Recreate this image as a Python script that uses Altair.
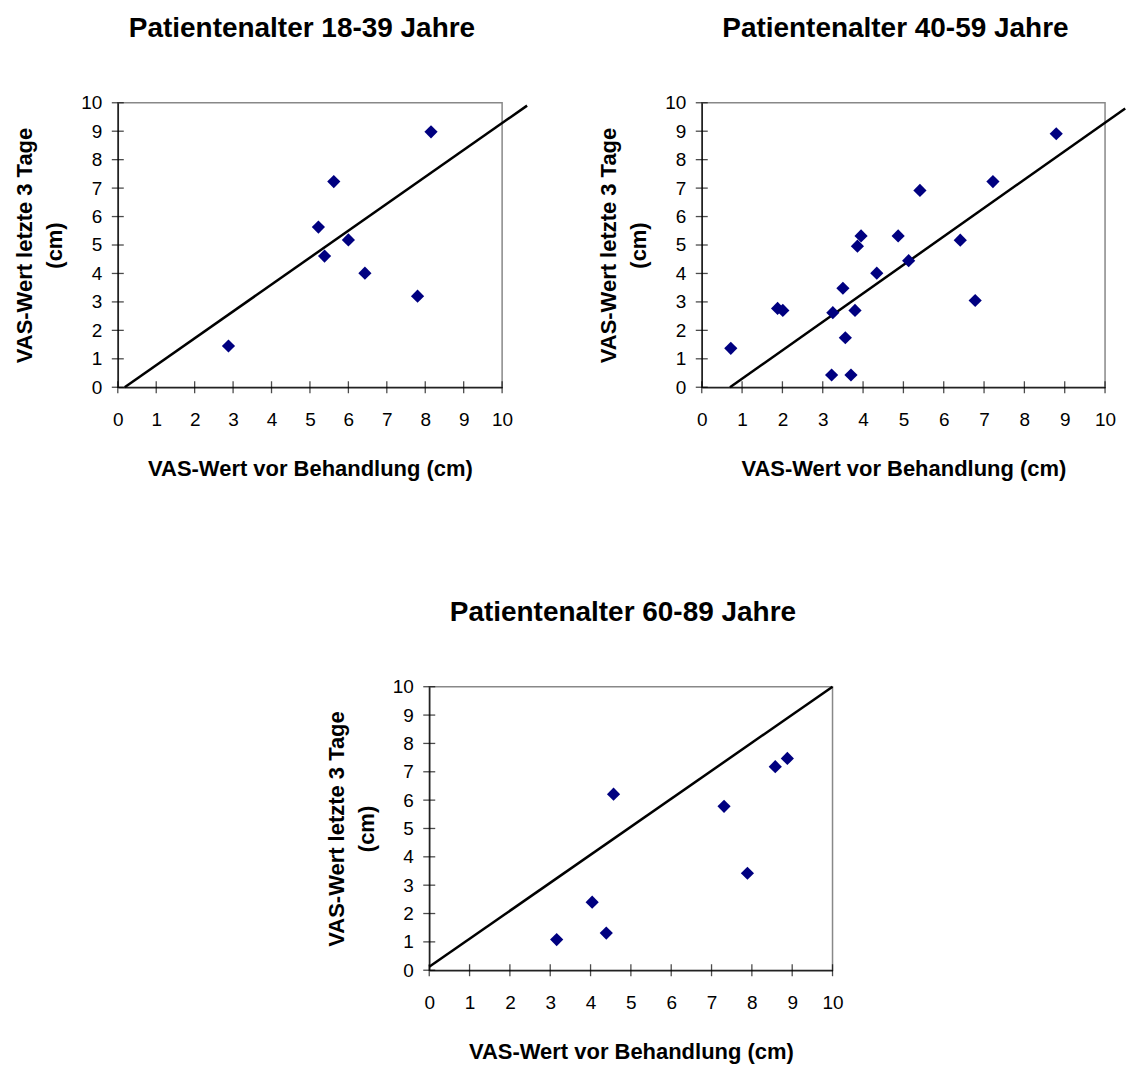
import altair as alt
import pandas as pd

FONT = "Liberation Sans"
NAVY = "#000080"
FRAME = "#888888"

titles = [
    "Patientenalter 18-39 Jahre",
    "Patientenalter 40-59 Jahre",
    "Patientenalter 60-89 Jahre",
]
x_title = "VAS-Wert vor Behandlung (cm)"
y_title = ["VAS-Wert letzte 3 Tage", "(cm)"]
tick_values = list(range(0, 11))

# Patients 18-39: VAS before treatment vs. last 3 days
vor_1 = [2.88, 5.22, 5.38, 5.62, 6.00, 6.43, 7.80, 8.15]
nach_1 = [1.45, 5.63, 4.61, 7.23, 5.18, 4.01, 3.20, 8.98]
line_x_1 = [0.18, 10.65]
line_y_1 = [0.0, 9.90]

# Patients 40-59
vor_2 = [0.72, 1.88, 2.01, 3.22, 3.25, 3.50, 3.56, 3.70, 3.80, 3.86,
         3.95, 4.34, 4.87, 5.13, 5.41, 6.41, 6.78, 7.22, 8.79]
nach_2 = [1.37, 2.77, 2.70, 0.43, 2.62, 3.48, 1.74, 0.43, 2.70, 4.96,
          5.32, 4.01, 5.32, 4.45, 6.92, 5.17, 3.05, 7.23, 8.91]
line_x_2 = [0.70, 10.50]
line_y_2 = [0.0, 9.80]

# Patients 60-89
vor_3 = [3.16, 4.04, 4.39, 4.57, 7.31, 7.89, 8.58, 8.88]
nach_3 = [1.08, 2.40, 1.31, 6.21, 5.78, 3.42, 7.18, 7.47]
line_x_3 = [0.0, 10.0]
line_y_3 = [0.12, 10.0]


def panel(title, vor, nach, lx, ly, width, height):
    pts = pd.DataFrame({"vor": vor, "nach": nach})
    ln = pd.DataFrame({"vor": lx, "nach": ly})
    xticks = pd.DataFrame({"vor": tick_values})
    yticks = pd.DataFrame({"nach": tick_values})

    xs = alt.Scale(domain=[0, 10], nice=False, zero=False)
    ys = alt.Scale(domain=[0, 10], nice=False, zero=False)
    xaxis = alt.Axis(
        values=tick_values, ticks=False, grid=False,
        domainColor="#222222", domainWidth=1.5,
        labelFont=FONT, labelFontSize=19, labelColor="black",
        labelPadding=23, labelFlush=False,
        title=x_title, titleFont=FONT, titleFontSize=22,
        titleFontWeight="bold", titleColor="black", titlePadding=29,
    )
    yaxis = alt.Axis(
        values=tick_values, ticks=False, grid=False,
        domainColor="#222222", domainWidth=1.5,
        labelFont=FONT, labelFontSize=19, labelColor="black",
        labelPadding=16, labelFlush=False,
        title=y_title, titleFont=FONT, titleFontSize=22,
        titleFontWeight="bold", titleColor="black", titlePadding=14,
        titleLineHeight=30,
    )
    X = alt.X("vor:Q", scale=xs, axis=xaxis)
    Y = alt.Y("nach:Q", scale=ys, axis=yaxis)

    xtick_layer = alt.Chart(xticks).mark_tick(
        orient="vertical", color="black", size=12, thickness=1.3
    ).encode(x=X, y=alt.YDatum(0, scale=ys, axis=yaxis))
    ytick_layer = alt.Chart(yticks).mark_tick(
        orient="horizontal", color="black", size=12, thickness=1.3
    ).encode(y=Y, x=alt.XDatum(0, scale=xs, axis=xaxis))
    line_layer = alt.Chart(ln).mark_line(
        color="black", strokeWidth=2.5, clip=False
    ).encode(x=X, y=Y)
    point_layer = alt.Chart(pts).mark_point(
        shape="diamond", filled=True, size=175, color=NAVY, opacity=1
    ).encode(x=X, y=Y)

    return alt.layer(xtick_layer, ytick_layer, line_layer, point_layer).properties(
        width=width,
        height=height,
        title=alt.TitleParams(
            title, font=FONT, fontSize=28, fontWeight="bold", color="black",
            anchor="middle", frame="group", dx=-8, offset=51,
        ),
        view=alt.ViewBackground(stroke=FRAME, strokeWidth=1.5),
    )


p1 = panel(titles[0], vor_1, nach_1, line_x_1, line_y_1, 385, 285)
p2 = panel(titles[1], vor_2, nach_2, line_x_2, line_y_2, 404, 285)
p3 = panel(titles[2], vor_3, nach_3, line_x_3, line_y_3, 404, 284)

spacer = alt.Chart(pd.DataFrame({"s": [0]})).mark_point(opacity=0).properties(
    width=157, height=10
)

top_row = alt.hconcat(p1, p2, spacing=64)
bottom_row = alt.hconcat(spacer, p3, spacing=50)

chart = alt.vconcat(top_row, bottom_row, spacing=118).properties(
    padding={"left": 13, "top": 13, "right": 0, "bottom": 0}
).configure_view(stroke=None)

chart.save("out.html", embed_options={"renderer": "svg", "actions": False})
